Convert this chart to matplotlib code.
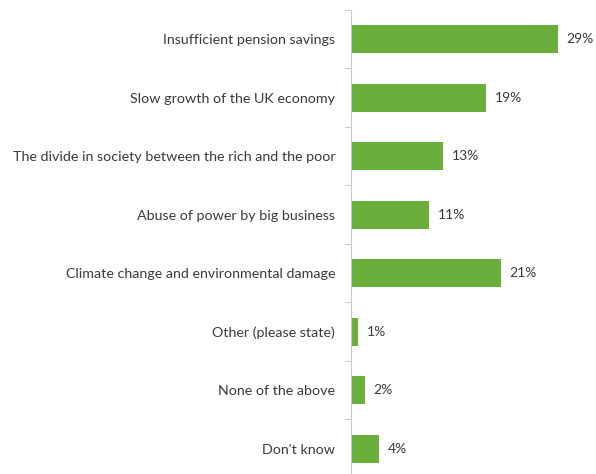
import matplotlib
matplotlib.use("Agg")
import matplotlib.pyplot as plt
import numpy as np

categories = [
    "Insufficient pension savings",
    "Slow growth of the UK economy",
    "The divide in society between the rich and the poor",
    "Abuse of power by big business",
    "Climate change and environmental damage",
    "Other (please state)",
    "None of the above",
    "Don't know",
]
values = [29, 19, 13, 11, 21, 1, 2, 4]
value_labels = ["29%", "19%", "13%", "11%", "21%", "1%", "2%", "4%"]

plt.rcParams['font.family'] = ['Lato', 'DejaVu Sans']

fig = plt.figure(figsize=(5.96, 4.74), dpi=100)
ax = fig.add_axes([350.5/596, 1 - 478/474, 243/596, (478 - 10)/474])

y = np.arange(len(categories))
bar_color = "#6AAE3C"
ax.barh(y, values, height=0.48, color=bar_color)
ax.set_ylim(len(categories) - 0.5, -0.5)
ax.set_xlim(0, 34)

for yi, v, lab in zip(y, values, value_labels):
    ax.text(v + 1.25, yi, lab, va="center", ha="left", fontsize=10,
            color="#3A3A3A")

ax.set_yticks(y)
ax.set_yticklabels(categories, fontsize=10.3, color="#3A3A3A")
ax.set_yticks(np.arange(-0.5, len(categories), 1), minor=True)
ax.tick_params(axis="y", which="major", length=0, pad=11)
ax.tick_params(axis="y", which="minor", length=4, color="#C8C8C8", width=0.8)
ax.set_xticks([])

for s in ["top", "right", "bottom"]:
    ax.spines[s].set_visible(False)
ax.spines["left"].set_color("#C8C8C8")
ax.spines["left"].set_linewidth(0.8)

fig.savefig("out.png", dpi=100)
